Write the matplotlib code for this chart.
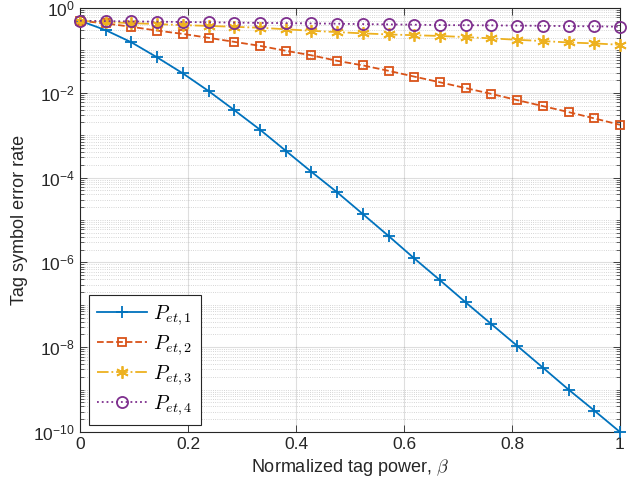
import numpy as np
import matplotlib
matplotlib.use("Agg")
import matplotlib.pyplot as plt
from matplotlib.ticker import LogLocator, FixedLocator, NullFormatter, LogFormatterSciNotation

plt.rcParams['font.family'] = ['Liberation Sans', 'DejaVu Sans']
plt.rcParams['mathtext.fontset'] = 'cm'

beta = np.linspace(0, 1, 22)

p_et1 = [0.50, 0.30, 0.155, 0.0684, 0.0287, 0.011, 3.9e-3, 1.35e-3, 4.3e-4, 1.37e-4,
         4.5e-5, 1.38e-5, 4.2e-6, 1.24e-6, 3.8e-7, 1.14e-7, 3.5e-8, 1.08e-8, 3.3e-9,
         1.0e-9, 3.2e-10, 1.0e-10]
p_et2 = [0.50, 0.433, 0.360, 0.293, 0.245, 0.198, 0.159, 0.128, 0.098, 0.0766,
         0.0568, 0.0443, 0.0330, 0.0241, 0.0177, 0.0129, 9.42e-3, 6.73e-3, 4.86e-3,
         3.51e-3, 2.49e-3, 1.76e-3]
p_et3 = [0.50, 0.465, 0.44, 0.417, 0.395, 0.378, 0.36, 0.342, 0.315, 0.29, 0.27,
         0.252, 0.238, 0.228, 0.219, 0.206, 0.192, 0.178, 0.166, 0.154, 0.146, 0.136]
p_et4 = [0.50, 0.491, 0.483, 0.475, 0.468, 0.460, 0.453, 0.445, 0.440, 0.433, 0.426,
         0.417, 0.410, 0.404, 0.395, 0.393, 0.389, 0.385, 0.380, 0.374, 0.370, 0.362]

labels = [r'$P_{et,1}$', r'$P_{et,2}$', r'$P_{et,3}$', r'$P_{et,4}$']
xticks = [0, 0.2, 0.4, 0.6, 0.8, 1]
xticklabels = ['0', '0.2', '0.4', '0.6', '0.8', '1']

colors = [(0, 0.447, 0.741), (0.85, 0.325, 0.098), (0.929, 0.694, 0.125), (0.494, 0.184, 0.556)]

fig = plt.figure(figsize=(6.41, 4.95), dpi=100)
ax = fig.add_axes([80/641, 1-432/495, 540/641, 424/495])

ax.semilogy(beta, p_et1, '-', marker='+', color=colors[0], lw=1.3, ms=9, mew=1.3, label=labels[0], clip_on=False, zorder=3)
ax.semilogy(beta, p_et2, '--', marker='s', color=colors[1], lw=1.3, ms=6, mew=1.3, mfc='none', label=labels[1], clip_on=False, zorder=3)
ax.semilogy(beta, p_et3, '-.', marker=(6, 2, 0), color=colors[2], lw=1.3, ms=9, mew=1.3, label=labels[2], clip_on=False, zorder=3)
ax.semilogy(beta, p_et4, ':', marker='o', color=colors[3], lw=1.3, ms=8, mew=1.3, mfc='none', label=labels[3], clip_on=False, zorder=3)

ax.set_xlim(0, 1)
ax.set_ylim(1e-10, 1)
ax.set_xticks(xticks)
ax.set_xticklabels(xticklabels)
ax.yaxis.set_major_locator(FixedLocator([10.0**k for k in range(-10, 1, 2)]))
ax.yaxis.set_major_formatter(LogFormatterSciNotation())
ax.yaxis.set_minor_locator(LogLocator(base=10, subs=np.arange(1, 10), numticks=100))
ax.yaxis.set_minor_formatter(NullFormatter())

ax.tick_params(which='both', direction='in', top=True, right=True, labelsize=12.5, colors='#262626')
ax.tick_params(which='major', length=5, width=0.6)
ax.tick_params(which='minor', length=3, width=0.5)

ax.grid(True, which='major', color='#262626', alpha=0.15, lw=0.8, ls='-')
ax.grid(True, which='minor', axis='y', color='#262626', alpha=0.25, lw=0.6, ls=':')
for s in ax.spines.values():
    s.set_color('#262626')
    s.set_linewidth(0.8)

ax.set_xlabel(r'Normalized tag power, $\beta$', fontsize=13, color='#262626')
ax.set_ylabel('Tag symbol error rate', fontsize=13, color='#262626')

leg = ax.legend(loc='lower left', fontsize=14.5, fancybox=False, edgecolor='#262626',
                framealpha=1, handlelength=2.5, handletextpad=0.3, borderpad=0.4,
                labelspacing=0.3, borderaxespad=0, bbox_to_anchor=(9/540, 7/424))
leg.get_frame().set_linewidth(0.8)

fig.savefig('out.png', dpi=100)
